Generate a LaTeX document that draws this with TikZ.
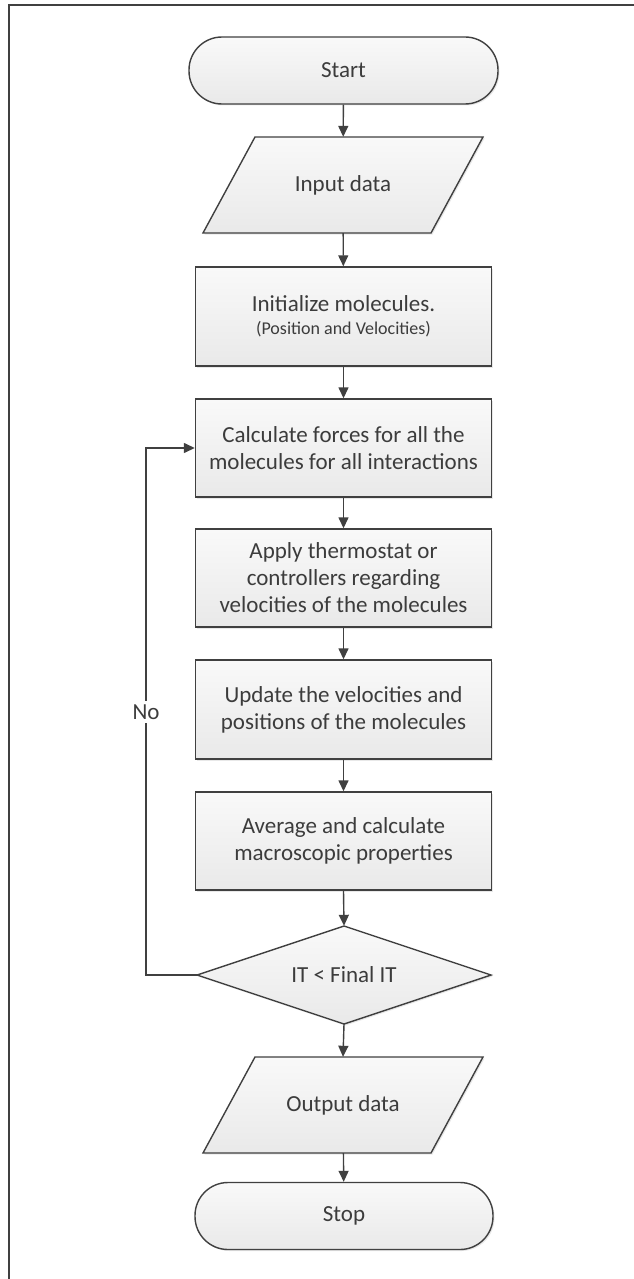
\documentclass[tikz,border=0pt]{standalone}
\usepackage{fontspec}
\setmainfont{Carlito}
\usetikzlibrary{arrows.meta,shadows}
\definecolor{ln}{HTML}{404040}
\definecolor{tx}{HTML}{3C3C3C}
\definecolor{ftop}{HTML}{F9F9F9}
\definecolor{fbot}{HTML}{E9E9E9}
\begin{document}
\begin{tikzpicture}[x=1pt,y=-1pt,
  font=\fontsize{23}{27}\selectfont, text=tx,
  shp/.style={draw=ln, line width=1.4pt, top color=ftop, bottom color=fbot,
    drop shadow={shadow xshift=1.5pt, shadow yshift=-1.5pt, opacity=0.18}},
  box/.style={shp, rectangle, minimum width=296pt, minimum height=98pt, inner sep=0pt, align=center},
  term/.style={shp, rectangle, rounded corners=33pt, minimum height=67pt, inner sep=0pt},
  txt/.style={rectangle, inner sep=0pt, align=center},
  arr/.style={draw=ln, line width=1.4pt, -{Triangle[length=11pt,width=10pt]}},
  frame/.style={draw=ln, line width=1.8pt}
]
\useasboundingbox (0,0) rectangle (634,1279);
% outer frame (cropped)
\coordinate (fl) at (9,1285);
\coordinate (fc) at (9,5);
\coordinate (fr) at (640,5);
\draw[frame] (fl) -- (fc) -- (fr);

% nodes
\node[term, minimum width=309pt] (start) at (343.5,70.5) {Start};

\draw[shp] (255,137) -- (483,137) -- (431,233) -- (203,233) -- cycle;
\node[txt, minimum width=228pt, minimum height=96pt] (in) at (343,185) {Input data};

\node[box, minimum height=99pt] (init) at (343.5,316.5)
  {Initialize molecules.\\[-4pt]{\fontsize{18}{22}\selectfont (Position and Velocities)}};
\node[box] (calc) at (343.5,448) {Calculate forces for all the\\molecules for all interactions};
\node[box] (apply) at (343.5,578) {Apply thermostat or\\controllers regarding\\velocities of the molecules};
\node[box, minimum height=99pt] (upd) at (343.5,709.5) {Update the velocities and\\positions of the molecules};
\node[box] (avg) at (343.5,841) {Average and calculate\\macroscopic properties};

\draw[shp] (344,926) -- (491,975) -- (344,1024) -- (197,975) -- cycle;
\node[txt, minimum width=294pt, minimum height=98pt] (dec) at (344,975) {IT < Final IT};

\draw[shp] (255,1057) -- (483,1057) -- (431,1153) -- (203,1153) -- cycle;
\node[txt, minimum width=228pt, minimum height=96pt] (out) at (343,1105) {Output data};

\node[term, minimum width=298pt, rounded corners=33pt] (stop) at (344,1216) {Stop};

% connectors
\draw[arr] (start) -- (in);
\draw[arr] (in) -- (init);
\draw[arr] (init) -- (calc);
\draw[arr] (calc) -- (apply);
\draw[arr] (apply) -- (upd);
\draw[arr] (upd) -- (avg);
\draw[arr] (avg.south) -- (dec.north);
\draw[arr] (dec.south) -- (out.north);
\draw[arr] (out) -- (stop);

\coordinate (lp) at (146,975);
\draw[arr] (dec.west) -- (lp) |- (calc.west);
\node[fill=white, inner sep=4pt] (no) at (146,712) {No};
\end{tikzpicture}
\end{document}
